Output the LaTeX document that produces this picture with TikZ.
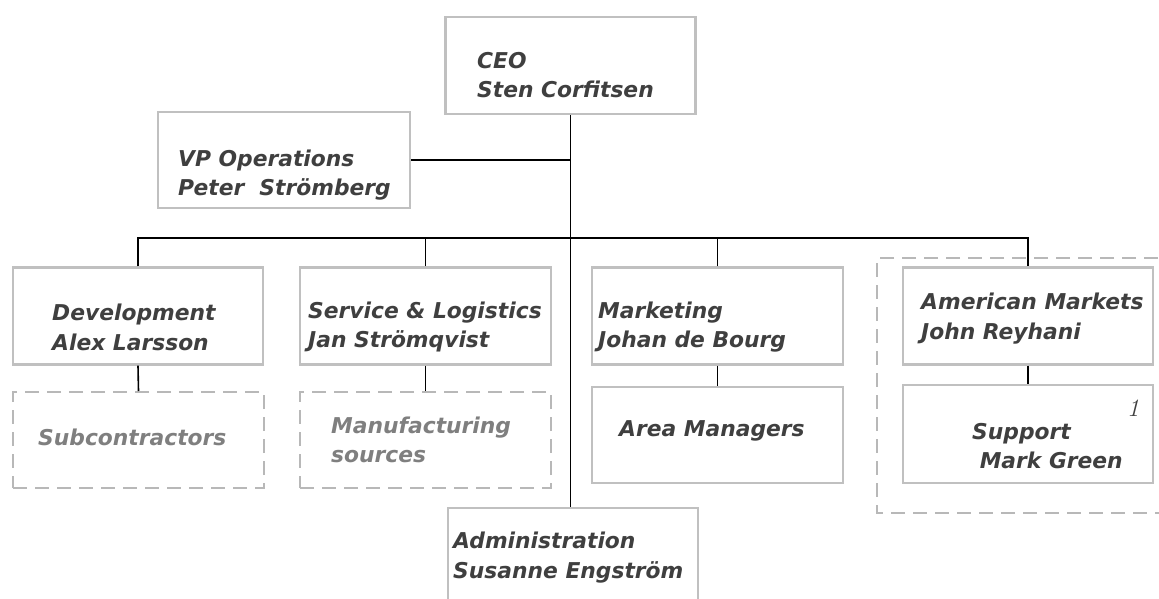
\documentclass[tikz,border=0pt]{standalone}
\usepackage{fontspec}
\newfontfamily\orgfont{DejaVu Sans}
\usetikzlibrary{positioning}
\definecolor{boxline}{HTML}{C0C0C0}
\definecolor{dashline}{HTML}{B8B8B8}
\definecolor{ink}{HTML}{3F3F3F}
\definecolor{faint}{HTML}{7F7F7F}
\tikzset{
  unit/.style={draw=boxline, line width=2.2, minimum width=250, minimum height=97, inner sep=0},
  outside/.style={unit, draw=dashline, line width=2, dash pattern=on 14 off 8},
  title/.style={anchor=west, align=left, inner sep=0, text=ink,
    font=\orgfont\bfseries\itshape\fontsize{21.8}{29.5}\selectfont},
  faded/.style={title, text=faint},
  link/.style={line width=1.6, black}
}
\begin{document}
\begin{tikzpicture}[x=1pt, y=-1pt]
   \useasboundingbox (0,0) rectangle (1159,599);
   \draw[dashline, line width=2, dash pattern=on 14 off 8] (1180,258) -- (877,258) -- (877,513) -- (1180,513);
   \node[unit] (ceo) at (570.5,65.5) {};
   \node[unit, minimum width=252, minimum height=96] (vp) at (284,160) {};
   \node[unit] (dev) at (138,316) {};
   \node[unit, minimum width=251] (svc) at (425.5,316) {};
   \node[unit, minimum width=251] (mkt) at (717.5,316) {};
   \node[unit] (am) at (1028,316) {};
   \node[outside, minimum width=251, minimum height=96] (sub) at (138.5,440) {};
   \node[outside, minimum width=251, minimum height=96] (mfg) at (425.5,440) {};
   \node[unit, minimum width=251, minimum height=96] (area) at (717.5,435) {};
   \node[unit, minimum height=98] (sup) at (1028,434) {};
   \node[unit] (adm) at (573,556.5) {};
   \node[title] (ceo-t) at (477,75) {CEO\\Sten Corfitsen};
   \node[title] (vp-t) at (178,175) {VP Operations\\Peter\ \ Strömberg};
   \node[title] (dev-t) at (52,327.5) {Development\\Alex Larsson};
   \node[title] (svc-t) at (308,327) {Service \& Logistics\\Jan Strömqvist};
   \node[title] (mkt-t) at (598,327) {Marketing\\Johan de Bourg};
   \node[title] (am-t) at (921,318.5) {American Markets\\John Reyhani};
   \node[title] (area-t) at (619,431) {Area Managers};
   \node[title] (sup-t) at (972,446) {Support\\\ Mark Green};
   \node[faded] (sub-t) at (38,437) {Subcontractors};
   \node[faded] (mfg-t) at (331,440) {Manufacturing\\sources};
   \node[title] (adm-t) at (453,557.5) {Administration\\Susanne Engström};
   \node[anchor=center, inner sep=0, text=ink, font=\itshape\fontsize{25}{27}\selectfont] (sup-n) at (1133,408) {1};
   \coordinate (bus) at (0,238);
   \draw[link] (ceo.south) -- (ceo.south |- adm.north);
   \draw[link] (vp.east) -- (vp.east -| ceo.south);
   \draw[link] (dev.north) -- (dev.north |- bus) -- (am.north |- bus) -- (am.north);
   \draw[link] (svc.north) -- (svc.north |- bus);
   \draw[link] (mkt.north) -- (mkt.north |- bus);
   \draw[link] (dev.south) -- (sub.north);
   \draw[link] (svc.south) -- (mfg.north);
   \draw[link] (mkt.south) -- (area.north);
   \draw[link] (am.south) -- (sup.north);
\end{tikzpicture}
\end{document}
